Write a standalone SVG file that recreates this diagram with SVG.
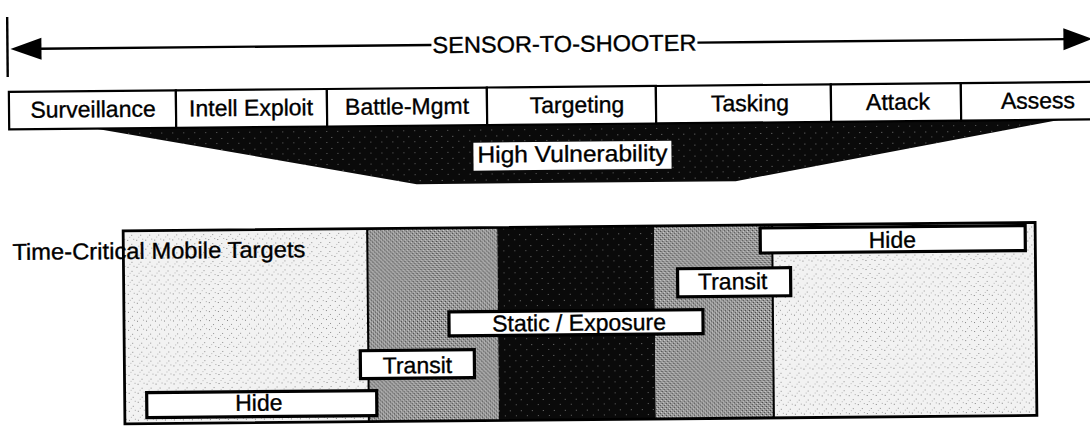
<svg xmlns="http://www.w3.org/2000/svg" width="1090" height="426" viewBox="0 0 1090 426">
<style>
text{font-family:"Liberation Sans",Arial,Helvetica,sans-serif;font-size:23px;fill:#000;stroke:#000;stroke-width:0.35}
.m{text-anchor:middle}
.cell{fill:#fff;stroke:#000;stroke-width:2.2}
.lbl{fill:#fff;stroke:#000;stroke-width:3.2}
.ln{stroke:#000;stroke-width:2.4;fill:none}
</style>
<defs>
<pattern id="light" width="9" height="9" patternUnits="userSpaceOnUse">
<rect width="9" height="9" fill="#f2f2f2"/>
<rect x="1" y="2" width="1" height="1" fill="#808080"/>
<rect x="5" y="6" width="1" height="1" fill="#909090"/>
<rect x="7" y="1" width="1" height="1" fill="#a8a8a8"/>
<rect x="3" y="8" width="1" height="1" fill="#b8b8b8"/>
</pattern>
<pattern id="mid" width="4" height="4" patternUnits="userSpaceOnUse">
<rect width="4" height="4" fill="#999"/>
<rect x="0" y="0" width="1" height="1" fill="#333"/>
<rect x="2" y="2" width="1" height="1" fill="#444"/>
<rect x="3" y="1" width="1" height="1" fill="#dcdcdc"/>
<rect x="1" y="3" width="1" height="1" fill="#d0d0d0"/>
</pattern>
<pattern id="dark" width="11" height="11" patternUnits="userSpaceOnUse">
<rect width="11" height="11" fill="#0a0a0a"/>
<rect x="2" y="3" width="1" height="1" fill="#777"/>
<rect x="8" y="8" width="1" height="1" fill="#666"/>
</pattern>
</defs>
<rect width="1090" height="426" fill="#fff"/>
<g transform="rotate(-0.53 545 213)">
<g id="connectors">
<line class="ln" x1="9" y1="12" x2="9" y2="72"/>
<line class="ln" x1="40" y1="44" x2="433" y2="44"/>
<line class="ln" x1="699" y1="44" x2="1068" y2="44"/>
<polygon points="12,44 43,33 43,55" fill="#000"/>
<polygon points="1094,44 1065,33 1065,55" fill="#000"/>
<text id="sensor-label" x="566" y="52" class="m" textLength="264" lengthAdjust="spacingAndGlyphs">SENSOR-TO-SHOOTER</text>
</g>
<g id="vulnerability">
<polygon points="97,124.5 417,183 736,183 1061,124.5" fill="url(#dark)"/>
<rect x="474" y="142" width="198" height="28" fill="#fff"/>
<text x="573" y="162" class="m" textLength="190" lengthAdjust="spacingAndGlyphs">High Vulnerability</text>
</g>
<g id="phase-surveillance"><rect class="cell" x="10" y="87" width="167" height="37.5"/><text x="94" y="113" class="m">Surveillance</text></g>
<g id="phase-intell"><rect class="cell" x="177" y="87" width="151" height="37.5"/><text x="252" y="113" class="m">Intell Exploit</text></g>
<g id="phase-battle"><rect class="cell" x="328" y="87" width="160" height="37.5"/><text x="408" y="113" class="m">Battle-Mgmt</text></g>
<g id="phase-targeting"><rect class="cell" x="488" y="87" width="169" height="37.5"/><text x="578" y="113" class="m">Targeting</text></g>
<g id="phase-tasking"><rect class="cell" x="657" y="87" width="175" height="37.5"/><text x="751" y="113" class="m">Tasking</text></g>
<g id="phase-attack"><rect class="cell" x="832" y="87" width="130" height="37.5"/><text x="899" y="113" class="m">Attack</text></g>
<g id="phase-assess"><rect class="cell" x="962" y="87" width="140" height="37.5"/><text x="1039" y="113" class="m">Assess</text></g>
<g id="timeline">
<rect x="123" y="227" width="244" height="193" fill="url(#light)"/>
<rect x="367" y="227" width="130" height="193" fill="url(#mid)"/>
<rect x="497" y="227" width="157" height="193" fill="url(#dark)"/>
<rect x="654" y="227" width="118" height="193" fill="url(#mid)"/>
<rect x="772" y="227" width="263" height="193" fill="url(#light)"/>
<line x1="367" y1="227" x2="367" y2="420" stroke="#000" stroke-width="2"/>
<line x1="772" y1="227" x2="772" y2="420" stroke="#000" stroke-width="2"/>
<rect x="123" y="227" width="912" height="193" fill="none" stroke="#000" stroke-width="2.8"/>
<text x="12" y="255" textLength="293" lengthAdjust="spacingAndGlyphs">Time-Critical Mobile Targets</text>
</g>
<g id="hide-left"><rect class="lbl" x="145" y="389" width="230" height="25"/><text x="257" y="408" class="m">Hide</text></g>
<g id="transit-left"><rect class="lbl" x="359" y="349" width="114" height="28"/><text x="416" y="372" class="m">Transit</text></g>
<g id="static-exposure"><rect class="lbl" x="448" y="311" width="254" height="24"/><text x="578" y="331" class="m">Static / Exposure</text></g>
<g id="transit-right"><rect class="lbl" x="677" y="270" width="113" height="28"/><text x="732" y="291" class="m">Transit</text></g>
<g id="hide-right"><rect class="lbl" x="760" y="230" width="265" height="25"/><text x="892" y="251" class="m">Hide</text></g>
</g>
</svg>
